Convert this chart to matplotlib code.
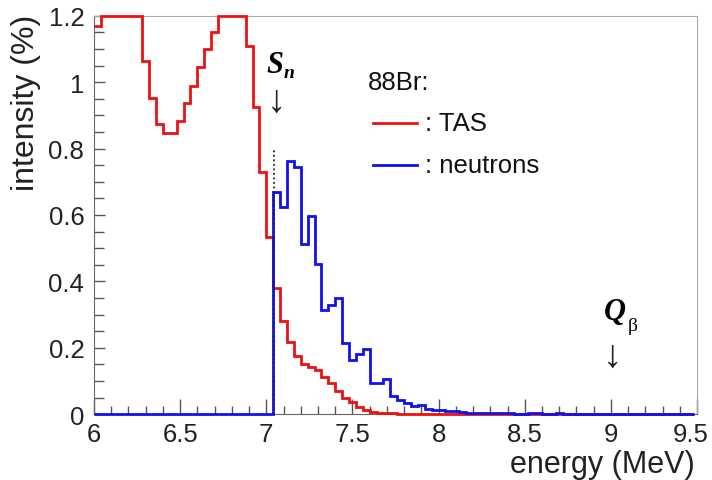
import numpy as np
import matplotlib.pyplot as plt
from matplotlib.transforms import ScaledTranslation

plt.rcParams['font.family'] = ['Liberation Sans', 'DejaVu Sans']

# histogram binning (MeV)
e_start = 6.0
bin_w = 0.04

# TAS intensity per bin, starting at 6.00 MeV (values above 1.2 shown at the frame)
tas = [1.17, 1.2, 1.2, 1.2, 1.2, 1.2, 1.2,
       1.065, 0.953, 0.874, 0.847, 0.847, 0.884, 0.937, 0.99, 1.047, 1.10, 1.15,
       1.2, 1.2, 1.2, 1.2,
       1.11, 0.926, 0.73, 0.533,
       0.379, 0.281, 0.216, 0.174, 0.152, 0.143, 0.132, 0.113, 0.093, 0.07,
       0.05, 0.035, 0.02, 0.012, 0.005, 0.003, 0.003, 0.002,
       0, 0, 0, 0, 0, 0, 0, 0, 0, 0, 0, 0, 0, 0, 0, 0, 0, 0, 0, 0, 0, 0,
       0, 0, 0, 0, 0, 0, 0, 0, 0, 0, 0, 0, 0, 0, 0, 0, 0, 0, 0, 0, 0, 0]

# neutron intensity per bin, starting at 6.00 MeV
neutrons = [0, 0, 0, 0, 0, 0, 0, 0, 0, 0, 0, 0, 0,
            0, 0, 0, 0, 0, 0, 0, 0, 0, 0, 0, 0, 0,
            0.668, 0.625, 0.762, 0.744, 0.512, 0.598, 0.452, 0.313, 0.328, 0.349,
            0.213, 0.164, 0.180, 0.197, 0.093, 0.093, 0.105, 0.055, 0.043, 0.033,
            0.023, 0.027, 0.015, 0.013, 0.012, 0.008, 0.008, 0.006, 0.004, 0.003,
            0.003, 0.003, 0.003, 0.003, 0.002, 0.001, 0, 0.002, 0.002, 0, 0,
            0.002, 0, 0, 0, 0, 0, 0, 0, 0, 0, 0, 0, 0, 0, 0, 0, 0, 0, 0, 0]

s_n = 7.045

edges_t = e_start + bin_w * np.arange(len(tas) + 1)
edges_n = e_start + bin_w * np.arange(len(neutrons) + 1)

fig = plt.figure(figsize=(7.12, 4.81), dpi=100)
ax = fig.add_axes([0.132, 0.137, 0.847, 0.828])
ax.set_xlim(6, 9.5)
ax.set_ylim(0, 1.2)

# only draw inside the x range, but let the lines sit on the frame
keep_t = edges_t <= 9.5 + 1e-9
keep_n = edges_n <= 9.5 + 1e-9
ax.stairs(np.array(tas)[keep_t[1:]], edges_t[keep_t], baseline=None,
          color='#ee1111', lw=2.0, zorder=3, clip_on=False)
ax.stairs(np.array(neutrons)[keep_n[1:]], edges_n[keep_n], baseline=None,
          color='#1111ee', lw=2.0, zorder=4, clip_on=False)
ax.plot([s_n, s_n], [0, 0.8], color='#222222', ls=(0, (1, 1.5)), lw=1.3, zorder=5)

ax.set_xticks([6, 6.5, 7, 7.5, 8, 8.5, 9, 9.5])
ax.set_xticklabels(['6', '6.5', '7', '7.5', '8', '8.5', '9', '9.5'])
ax.set_yticks([0, 0.2, 0.4, 0.6, 0.8, 1.0, 1.2])
ax.set_yticklabels(['0', '0.2', '0.4', '0.6', '0.8', '1', '1.2'])
ax.set_xticks(np.arange(6, 9.55, 0.1), minor=True)
ax.set_yticks(np.arange(0, 1.21, 0.05), minor=True)
ax.tick_params(which='both', direction='in', colors='#555555', labelcolor='#222222',
               labelsize=18.5, width=1)
ax.tick_params(axis='x', which='major', length=11, pad=6)
ax.tick_params(axis='x', which='minor', length=6)
ax.tick_params(axis='y', which='major', length=8, pad=7)
ax.tick_params(axis='y', which='minor', length=7)
for side in ['top', 'right']:
    ax.spines[side].set_color('#aaaaaa')
for side in ['left', 'bottom']:
    ax.spines[side].set_color('#666666')

# keep the last x label inside the picture
last = ax.get_xticklabels()[-1]
last.set_transform(last.get_transform() + ScaledTranslation(-6 / 100, 0, fig.dpi_scale_trans))

ax.set_xlabel('energy (MeV)', fontsize=22, color='#222222')
ax.xaxis.set_label_coords(0.996, -0.125)
ax.xaxis.label.set_ha('right')
ax.xaxis.label.set_va('center')
ax.set_ylabel('intensity (%)', fontsize=23, color='#222222')
ax.yaxis.set_label_coords(-0.112, 1.005)
ax.yaxis.label.set_va('center')
ax.yaxis.label.set_ha('right')

# legend drawn as in the figure
ax.text(7.59, 1.0, '88Br:', fontsize=18.5, va='center', ha='left', color='#111111')
ax.plot([7.62, 7.875], [0.877, 0.877], color='#ee1111', lw=2.0)
ax.text(7.92, 0.877, ': TAS', fontsize=18.5, va='center', ha='left', color='#111111')
ax.plot([7.62, 7.875], [0.75, 0.75], color='#1111ee', lw=2.0)
ax.text(7.92, 0.75, ': neutrons', fontsize=18.5, va='center', ha='left', color='#111111')

# S_n and Q_beta markers
serif = ['Liberation Serif', 'DejaVu Serif']
ax.text(7.05, 1.052, 'S', fontsize=22, family=serif, weight='bold', style='italic',
        ha='center', va='center')
ax.text(7.13, 1.028, 'n', fontsize=14, family=serif, weight='bold', style='italic',
        ha='center', va='center')
ax.text(7.062, 0.944, '\u2193', fontsize=28, ha='center', va='center', color='#222222')
ax.text(9.024, 0.31, 'Q', fontsize=22, family=serif, weight='bold', style='italic',
        ha='center', va='center')
ax.text(9.128, 0.268, '\u03b2', fontsize=14, family=serif, ha='center', va='center')
ax.text(9.012, 0.175, '\u2193', fontsize=28, ha='center', va='center', color='#222222')

fig.savefig('out.png', dpi=100)
